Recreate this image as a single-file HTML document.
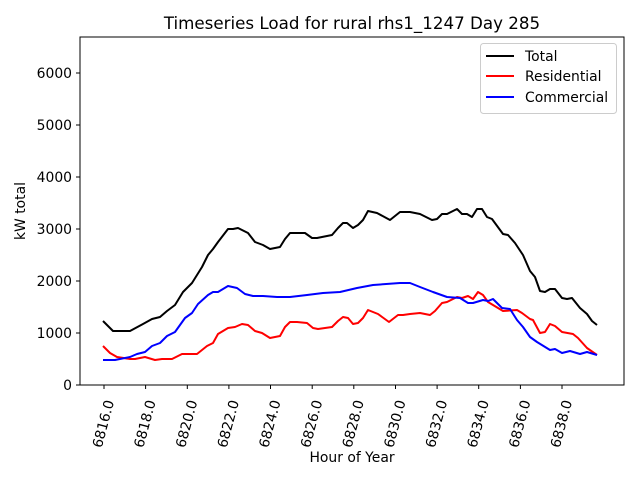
<!DOCTYPE html>
<html><head><meta charset="utf-8"><style>body{margin:0;background:#fff}svg{display:block}text{font-family:"DejaVu Sans","Liberation Sans",sans-serif;fill:#000}</style></head><body>
<svg width="640" height="480" viewBox="0 0 640 480" xmlns="http://www.w3.org/2000/svg">
<rect width="640" height="480" fill="#fff"/>
<text x="352" y="29" font-size="16.7" text-anchor="middle">Timeseries Load for rural rhs1_1247  Day 285</text>
<g stroke-linejoin="round" fill="none" stroke-width="2">
<polyline stroke="#000" points="103,321 113,331 130,331 143,324 152,319 160,317 167,311 175,305 183,292 192,283 202,267 208,255 213,249 218,242 228,229 233,229 238,228 248,233 255,242 263,245 270,249 280,247 285,239 290,233 297,233 305,233 312,238 317,238 332,235 338,228 343,223 347,223 353,228 358,225 363,220 368,211 377,213 390,220 400,212 410,212 420,214 432,220 437,219 442,214 447,214 457,209 462,214 467,214 472,217 477,209 482,209 487,217 492,219 503,234 508,235 515,243 523,255 530,271 535,277 540,291 545,292 550,289 555,289 562,298 567,299 572,298 580,308 587,314 592,321 597,325"/>
<polyline stroke="#f00" points="103,346 110,353 117,357 130,359 135,359 145,357 155,360 162,359 172,359 182,354 197,354 207,346 213,343 218,334 228,328 235,327 242,324 248,325 255,331 262,333 270,338 280,336 285,327 290,322 297,322 307,323 313,328 318,329 332,327 338,321 343,317 348,318 353,324 358,323 363,318 368,310 378,314 389,322 398,315 403,315 410,314 420,313 430,315 435,311 442,303 447,302 457,297 462,298 468,296 473,299 478,292 483,295 488,302 503,311 517,310 522,313 530,319 533,320 540,333 545,332 550,324 555,326 562,332 573,334 578,338 587,348 597,355"/>
<polyline stroke="#00f" points="103,360 115,360 130,357 137,354 145,352 152,346 160,343 167,336 175,332 185,318 192,313 198,304 208,295 213,292 218,292 228,286 237,288 245,294 253,296 263,296 277,297 290,297 307,295 323,293 340,292 357,288 373,285 400,283 410,283 420,287 433,292 447,297 460,298 468,303 473,303 483,300 488,301 493,299 502,308 510,309 517,320 523,327 530,337 537,342 550,350 555,349 562,353 570,351 580,354 587,352 597,355"/>
</g>
<rect x="80" y="37" width="544" height="348" fill="none" stroke="#000" stroke-width="1"/>
<g stroke="#000" stroke-width="1">
<line x1="76" y1="385" x2="80" y2="385"/><line x1="76" y1="333" x2="80" y2="333"/><line x1="76" y1="281" x2="80" y2="281"/><line x1="76" y1="229" x2="80" y2="229"/><line x1="76" y1="177" x2="80" y2="177"/><line x1="76" y1="125" x2="80" y2="125"/><line x1="76" y1="73" x2="80" y2="73"/>
<line x1="104" y1="385" x2="104" y2="389"/><line x1="145.6" y1="385" x2="145.6" y2="389"/><line x1="187.3" y1="385" x2="187.3" y2="389"/><line x1="228.9" y1="385" x2="228.9" y2="389"/><line x1="270.5" y1="385" x2="270.5" y2="389"/><line x1="312.2" y1="385" x2="312.2" y2="389"/><line x1="353.8" y1="385" x2="353.8" y2="389"/><line x1="395.5" y1="385" x2="395.5" y2="389"/><line x1="437.1" y1="385" x2="437.1" y2="389"/><line x1="478.7" y1="385" x2="478.7" y2="389"/><line x1="520.4" y1="385" x2="520.4" y2="389"/><line x1="562" y1="385" x2="562" y2="389"/>
</g>
<g font-size="13.9" text-anchor="end">
<text x="72" y="390">0</text><text x="72" y="338">1000</text><text x="72" y="286">2000</text><text x="72" y="234">3000</text><text x="72" y="182">4000</text><text x="72" y="130">5000</text><text x="72" y="78">6000</text>
</g>
<g font-size="13.9" text-anchor="middle" dominant-baseline="central">
<text transform="translate(104,424) rotate(-75)">6816.0</text>
<text transform="translate(145.6,424) rotate(-75)">6818.0</text>
<text transform="translate(187.3,424) rotate(-75)">6820.0</text>
<text transform="translate(228.9,424) rotate(-75)">6822.0</text>
<text transform="translate(270.5,424) rotate(-75)">6824.0</text>
<text transform="translate(312.2,424) rotate(-75)">6826.0</text>
<text transform="translate(353.8,424) rotate(-75)">6828.0</text>
<text transform="translate(395.5,424) rotate(-75)">6830.0</text>
<text transform="translate(437.1,424) rotate(-75)">6832.0</text>
<text transform="translate(478.7,424) rotate(-75)">6834.0</text>
<text transform="translate(520.4,424) rotate(-75)">6836.0</text>
<text transform="translate(562,424) rotate(-75)">6838.0</text>
</g>
<text x="352" y="462" font-size="13.9" text-anchor="middle">Hour of Year</text>
<text transform="translate(25,211) rotate(-90)" font-size="13.9" text-anchor="middle">kW total</text>
<rect x="480.5" y="43.5" width="136" height="70" rx="3" fill="#fff" fill-opacity="0.8" stroke="#ccc"/>
<g stroke-width="2"><line x1="486" y1="56" x2="514" y2="56" stroke="#000"/><line x1="486" y1="76" x2="514" y2="76" stroke="#f00"/><line x1="486" y1="97" x2="514" y2="97" stroke="#00f"/></g>
<g font-size="13.9"><text x="525" y="61">Total</text><text x="525" y="81">Residential</text><text x="525" y="102">Commercial</text></g>
</svg>
</body></html>
